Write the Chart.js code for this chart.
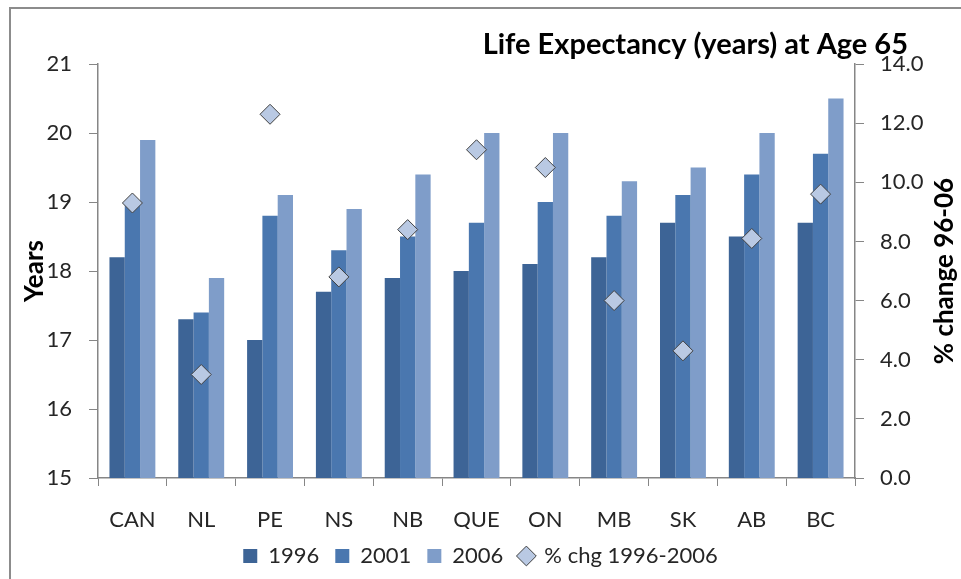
<!DOCTYPE html>
<html lang="en">
<head>
  <meta charset="UTF-8" />
  <title>Life Expectancy at Age 65</title>
  <script src="https://cdn.jsdelivr.net/npm/chart.js"></script>
  <style>
    body { margin: 0; background: #fff; }
    #wrap { width: 961px; height: 579px; position: relative; }
  </style>
</head>
<body>
  <div id="wrap"><canvas id="lifeChart"></canvas></div>

  <script>
    // data
    const provinces = ["CAN", "NL", "PE", "NS", "NB", "QUE", "ON", "MB", "SK", "AB", "BC"];
    const y1996 = [18.2, 17.3, 17.0, 17.7, 17.9, 18.0, 18.1, 18.2, 18.7, 18.5, 18.7];
    const y2001 = [19.0, 17.4, 18.8, 18.3, 18.5, 18.7, 19.0, 18.8, 19.1, 19.4, 19.7];
    const y2006 = [19.9, 17.9, 19.1, 18.9, 19.4, 20.0, 20.0, 19.3, 19.5, 20.0, 20.5];
    const pctChg = [9.3, 3.5, 12.3, 6.8, 8.4, 11.1, 10.5, 6.0, 4.3, 8.1, 9.6];

    const titleText = "Life Expectancy (years) at Age 65";
    const leftTitle = "Years";
    const rightTitle = "% change 96-06";

    const axisGray = "#868686";
    const textCol = "#262626";
    const fontFam = "Lato, 'Open Sans', sans-serif";

    // frame, chart title and axis titles (both read bottom-to-top)
    const decor = {
      id: "decor",
      afterDraw(chart) {
        const { ctx, chartArea } = chart;
        const mid = (chartArea.top + chartArea.bottom) / 2;
        ctx.save();
        ctx.strokeStyle = "#8c8c8c";
        ctx.lineWidth = 2;
        ctx.beginPath();
        ctx.moveTo(10, 579);
        ctx.lineTo(10, 8);
        ctx.lineTo(961, 8);
        ctx.stroke();

        ctx.fillStyle = "#000";
        ctx.font = "bold 29px " + fontFam;
        ctx.textAlign = "right";
        ctx.textBaseline = "alphabetic";
        ctx.fillText(titleText, 908, 54);

        ctx.font = "bold 26px " + fontFam;
        ctx.textAlign = "center";
        ctx.save();
        ctx.translate(43, mid);
        ctx.rotate(-Math.PI / 2);
        ctx.fillText(leftTitle, 0, 0);
        ctx.restore();
        ctx.save();
        ctx.translate(953, mid);
        ctx.rotate(-Math.PI / 2);
        ctx.fillText(rightTitle, 0, 0);
        ctx.restore();
        ctx.restore();
      }
    };

    const ctx = document.getElementById("lifeChart").getContext("2d");
    new Chart(ctx, {
      data: {
        labels: provinces,
        datasets: [
          { type: "line", label: "% chg 1996-2006", data: pctChg, yAxisID: "y1",
            showLine: false, pointStyle: "rectRot", pointRadius: 10, pointHoverRadius: 10,
            backgroundColor: "#b9c9e3", borderColor: "#404040", borderWidth: 1, order: 0 },
          { type: "bar", label: "1996", data: y1996, yAxisID: "y",
            backgroundColor: "#3d6496", borderWidth: 0, pointStyle: "rect", order: 1 },
          { type: "bar", label: "2001", data: y2001, yAxisID: "y",
            backgroundColor: "#4a77af", borderWidth: 0, pointStyle: "rect", order: 1 },
          { type: "bar", label: "2006", data: y2006, yAxisID: "y",
            backgroundColor: "#7f9dc9", borderWidth: 0, pointStyle: "rect", order: 1 }
        ]
      },
      options: {
        responsive: true,
        maintainAspectRatio: false,
        animation: false,
        datasets: { bar: { categoryPercentage: 0.667, barPercentage: 1.0 } },
        layout: { padding: { top: 64, bottom: 2, left: 0, right: 0 } },
        plugins: {
          legend: {
            position: "bottom",
            labels: {
              usePointStyle: true,
              boxWidth: 14,
              boxHeight: 14,
              padding: 16,
              color: textCol,
              font: { family: fontFam, size: 22 },
              sort: (a, b) => (a.datasetIndex === 0) - (b.datasetIndex === 0)
            }
          },
          tooltip: { enabled: false }
        },
        scales: {
          x: {
            offset: true,
            grid: { offset: true, drawOnChartArea: false, color: axisGray, tickLength: 8 },
            border: { color: axisGray, width: 1.5 },
            ticks: { color: textCol, padding: 21, font: { family: fontFam, size: 22 } },
            afterFit: s => { s.height = 51; }
          },
          y: {
            position: "left",
            min: 15, max: 21,
            ticks: { stepSize: 1, color: textCol, padding: 17, font: { family: fontFam, size: 22 } },
            grid: { drawOnChartArea: false, color: axisGray, tickLength: 9 },
            border: { color: axisGray, width: 1.5 },
            afterFit: s => { s.width = 98; }
          },
          y1: {
            position: "right",
            min: 0, max: 14,
            ticks: { stepSize: 2, color: textCol, padding: 16, font: { family: fontFam, size: 22 },
                     callback: v => v.toFixed(1) },
            grid: { drawOnChartArea: false, color: axisGray, tickLength: 9 },
            border: { color: axisGray, width: 1.5 },
            afterFit: s => { s.width = 106; }
          }
        }
      },
      plugins: [decor]
    });
  </script>
</body>
</html>
